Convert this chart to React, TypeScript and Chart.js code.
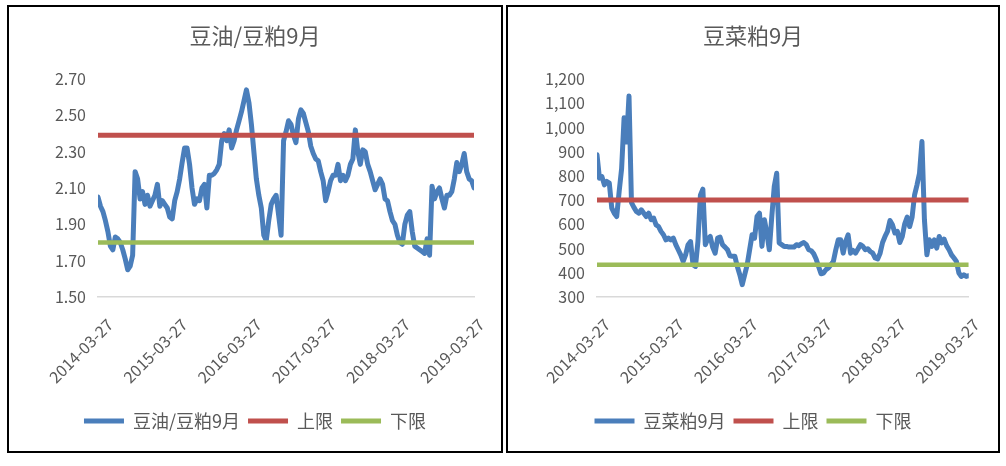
import React, { useEffect, useRef } from "react";
import { Chart, registerables } from "chart.js";

Chart.register(...registerables);

// ---------- data ----------
const xTickLabels = ["2014-03-27", "2015-03-27", "2016-03-27", "2017-03-27", "2018-03-27", "2019-03-27"];
const pointsPerYear = 30; // samples between two yearly labels

const oilMealTitle = "豆油/豆粕9月";
const oilMealName = "豆油/豆粕9月";
const oilMealValues = [
  2.05, 2.0, 1.97, 1.92, 1.86, 1.78, 1.76, 1.83, 1.82, 1.8,
  1.76, 1.71, 1.65, 1.67, 1.73, 2.19, 2.15, 2.04, 2.08, 2.01,
  2.06, 2.0, 2.03, 2.06, 2.12, 2.0, 2.03, 2.01, 1.99, 1.94,
  1.93, 2.03, 2.08, 2.15, 2.24, 2.32, 2.32, 2.23, 2.1, 2.01,
  2.04, 2.03, 2.1, 2.12, 1.99, 2.17, 2.17, 2.18, 2.2, 2.23,
  2.36, 2.4, 2.36, 2.42, 2.32, 2.36, 2.42, 2.47, 2.52, 2.58,
  2.64, 2.57, 2.45, 2.3, 2.15, 2.06, 1.99, 1.84, 1.81, 1.92,
  2.01, 2.04, 2.06, 1.95, 1.84, 2.36, 2.41, 2.47, 2.45, 2.39,
  2.35, 2.48, 2.53, 2.51, 2.46, 2.41, 2.33, 2.29, 2.26, 2.25,
  2.19, 2.14, 2.03, 2.08, 2.14, 2.17, 2.17, 2.23, 2.14, 2.17,
  2.14, 2.17, 2.23, 2.26, 2.42, 2.3, 2.23, 2.31, 2.3, 2.23,
  2.19, 2.14, 2.09, 2.12, 2.15, 2.12, 2.04, 2.03, 1.97, 1.92,
  1.9, 1.84, 1.8, 1.79, 1.9, 1.95, 1.97, 1.86, 1.78, 1.77,
  1.76, 1.75, 1.74, 1.82, 1.73, 2.11, 2.04, 2.08, 2.1, 2.04,
  1.99, 2.06, 2.06, 2.08, 2.15, 2.24, 2.19, 2.23, 2.29, 2.19,
  2.15, 2.14, 2.1,
];
const oilMealUpper = 2.39;
const oilMealLower = 1.8;
const oilMealYMin = 1.5;
const oilMealYMax = 2.7;
const oilMealYStep = 0.2;

const rapeMealTitle = "豆菜粕9月";
const rapeMealName = "豆菜粕9月";
const rapeMealValues = [
  887, 790, 797, 763, 777, 770, 667, 646, 632, 736,
  830, 1040, 940, 1130, 690, 670, 653, 646, 660, 646,
  632, 646, 619, 626, 598, 591, 571, 557, 536, 543,
  536, 543, 516, 495, 474, 447, 474, 516, 529, 433,
  426, 529, 720, 745, 516, 540, 550, 505, 481, 543,
  547, 516, 506, 495, 470, 468, 468, 426, 392, 351,
  392, 433, 495, 557, 543, 632, 646, 509, 619, 564,
  495, 632, 756, 811, 523, 516, 509, 509, 506, 506,
  506, 516, 512, 520, 525, 516, 495, 491, 479, 457,
  426, 396, 399, 413, 420, 433, 447, 495, 536, 536,
  481, 529, 557, 481, 492, 481, 498, 516, 509, 495,
  499, 488, 481, 461, 457, 481, 525, 550, 571, 616,
  598, 564, 571, 525, 550, 602, 630, 591, 630, 722,
  763, 811, 942, 619, 474, 536, 509, 536, 502, 550,
  523, 539, 512, 495, 474, 461, 447, 399, 385, 392,
  385, 388,
];
const rapeMealUpper = 700;
const rapeMealLower = 433;
const rapeMealYMin = 300;
const rapeMealYMax = 1200;
const rapeMealYStep = 100;

const upperName = "上限";
const lowerName = "下限";

// ---------- styles ----------
const FONT = '"Noto Sans CJK SC", "Noto Sans", sans-serif';
const TEXT = "#595959";
const BLUE = "#4A7EBB";
const RED = "#C0504D";
const GREEN = "#9BBB59";

type Props = {
  title: string;
  seriesName: string;
  values: number[];
  upper: number;
  lower: number;
  yMin: number;
  yMax: number;
  yStep: number;
  format: (v: number) => string;
  left: number;
  width: number;
  side: number;
  yWidth: number;
  labelOffset: number;
};

function LimitChart(p: Props) {
  const ref = useRef<HTMLCanvasElement>(null);
  useEffect(() => {
    const last = p.values.length - 1;
    const chart = new Chart(ref.current as HTMLCanvasElement, {
      type: "line",
      data: {
        datasets: [
          {
            label: p.seriesName,
            data: p.values.map((v, i) => ({ x: i, y: v })),
            borderColor: BLUE,
            backgroundColor: BLUE,
            borderWidth: 5,
            pointRadius: 0,
            tension: 0,
            borderJoinStyle: "round",
            borderCapStyle: "round",
            order: 2,
          },
          {
            label: upperName,
            data: [
              { x: 0, y: p.upper },
              { x: last, y: p.upper },
            ],
            borderColor: RED,
            backgroundColor: RED,
            borderWidth: 5,
            pointRadius: 0,
            order: 1,
          },
          {
            label: lowerName,
            data: [
              { x: 0, y: p.lower },
              { x: last, y: p.lower },
            ],
            borderColor: GREEN,
            backgroundColor: GREEN,
            borderWidth: 4.5,
            pointRadius: 0,
            order: 0,
          },
        ],
      },
      options: {
        responsive: false,
        animation: false,
        layout: { padding: { left: p.side, right: p.side, top: 0, bottom: 11 } },
        plugins: {
          title: {
            display: true,
            text: p.title,
            color: TEXT,
            font: { family: FONT, size: 22, weight: "normal" },
            padding: { top: 15, bottom: 30.6 },
          },
          legend: {
            position: "bottom",
            labels: {
              color: TEXT,
              font: { family: FONT, size: 18 },
              boxWidth: 40,
              boxHeight: 5,
              padding: 8,
              sort: (a: any, b: any) => a.datasetIndex - b.datasetIndex,
              generateLabels: (c: any) =>
                Chart.defaults.plugins.legend.labels
                  .generateLabels(c)
                  .map((it: any) => ({ ...it, fillStyle: it.strokeStyle, lineWidth: 0 })),
            },
          },
          tooltip: { enabled: false },
        },
        scales: {
          x: {
            type: "linear",
            min: 0,
            max: last,
            grid: { display: false, drawTicks: false },
            border: { display: true, color: "#D9D9D9", width: 1.5 },
            afterBuildTicks: (s: any) => {
              s.ticks = xTickLabels.map((_, k) => ({ value: k * pointsPerYear }));
            },
            afterFit: (s: any) => {
              s.height = 107;
            },
            ticks: {
              autoSkip: false,
              maxRotation: 45,
              minRotation: 45,
              padding: 18,
              labelOffset: p.labelOffset,
              color: TEXT,
              font: { family: FONT, size: 16 },
              callback: (v: any) => xTickLabels[Math.round(Number(v) / pointsPerYear)] ?? "",
            },
          },
          y: {
            min: p.yMin,
            max: p.yMax,
            grid: { display: false, drawTicks: false },
            border: { display: false },
            afterFit: (s: any) => {
              s.width = p.yWidth;
            },
            ticks: {
              stepSize: p.yStep,
              padding: 12,
              color: TEXT,
              font: { family: FONT, size: 16 },
              callback: (v: any) => p.format(Number(v)),
            },
          },
        },
      },
    } as any);
    return () => chart.destroy();
  }, []);
  return (
    <div
      style={{
        position: "absolute",
        left: p.left,
        top: 5,
        width: p.width,
        height: 448,
        border: "2px solid #000",
        boxSizing: "border-box",
        background: "#fff",
      }}
    >
      <canvas ref={ref} width={p.width - 4} height={444} style={{ display: "block" }} />
    </div>
  );
}

export default function App() {
  return (
    <div style={{ position: "absolute", left: 0, top: 0, width: 1006, height: 466, background: "#fff" }}>
      <LimitChart
        title={oilMealTitle}
        seriesName={oilMealName}
        values={oilMealValues}
        upper={oilMealUpper}
        lower={oilMealLower}
        yMin={oilMealYMin}
        yMax={oilMealYMax}
        yStep={oilMealYStep}
        format={(v) => v.toFixed(2)}
        left={7}
        width={496}
        side={20}
        yWidth={69}
        labelOffset={12}
      />
      <LimitChart
        title={rapeMealTitle}
        seriesName={rapeMealName}
        values={rapeMealValues}
        upper={rapeMealUpper}
        lower={rapeMealLower}
        yMin={rapeMealYMin}
        yMax={rapeMealYMax}
        yStep={rapeMealYStep}
        format={(v) => Math.round(v).toLocaleString("en-US")}
        left={506}
        width={494}
        side={22}
        yWidth={67}
        labelOffset={10}
      />
    </div>
  );
}
